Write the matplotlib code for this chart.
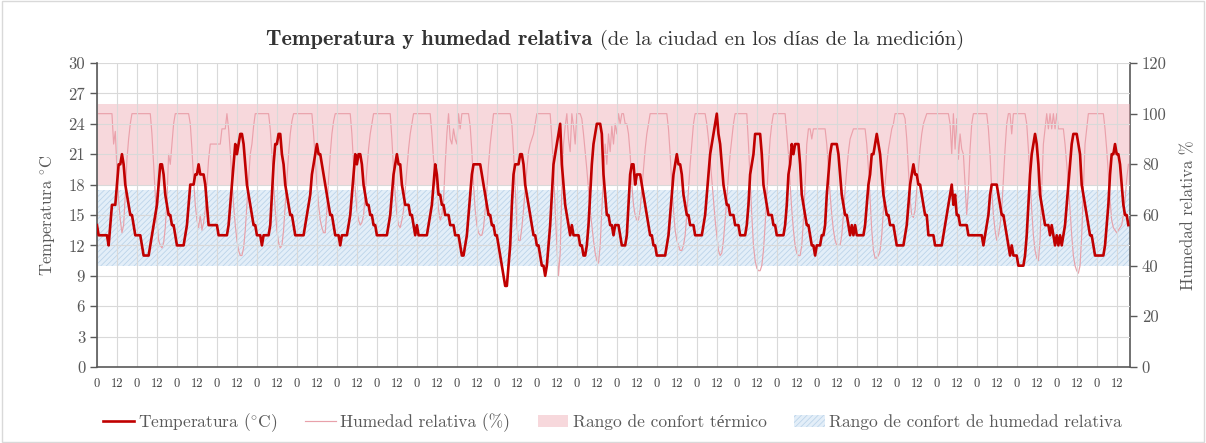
import numpy as np
import matplotlib.pyplot as plt
import matplotlib.patches as mpatches
from matplotlib.lines import Line2D

# temperatura horaria (°C), una fila por día
temperatura = [
    14, 13, 13, 13, 13, 13, 13, 12, 14, 16, 16, 16, 18, 20, 20, 21, 20, 18, 17, 16, 15, 15, 14, 13,
    13, 13, 13, 12, 11, 11, 11, 11, 12, 13, 14, 15, 16, 18, 20, 20, 19, 17, 16, 15, 15, 14, 14, 13,
    12, 12, 12, 12, 12, 13, 14, 16, 18, 18, 18, 19, 19, 20, 19, 19, 19, 18, 16, 14, 14, 14, 14, 14,
    14, 13, 13, 13, 13, 13, 13, 14, 16, 18, 20, 22, 21, 22, 23, 23, 22, 20, 18, 17, 16, 15, 14, 14,
    13, 13, 13, 12, 13, 13, 13, 13, 14, 17, 20, 22, 22, 23, 23, 21, 20, 18, 17, 16, 15, 15, 14, 13,
    13, 13, 13, 13, 13, 14, 15, 16, 17, 19, 20, 21, 22, 21, 21, 20, 19, 18, 17, 16, 15, 15, 14, 13,
    13, 13, 12, 13, 13, 13, 13, 14, 15, 17, 19, 21, 20, 21, 21, 20, 18, 17, 16, 16, 15, 15, 14, 14,
    13, 13, 13, 13, 13, 13, 13, 14, 15, 17, 19, 20, 21, 20, 20, 18, 17, 16, 16, 16, 15, 15, 14, 13,
    14, 13, 13, 13, 13, 13, 13, 14, 15, 16, 18, 20, 19, 17, 17, 16, 16, 15, 15, 15, 14, 14, 14, 13,
    13, 13, 12, 11, 11, 12, 13, 15, 17, 19, 20, 20, 20, 20, 20, 19, 18, 17, 16, 15, 15, 14, 14, 13,
    13, 12, 11, 10, 9, 8, 8, 10, 12, 16, 19, 20, 20, 20, 21, 21, 20, 18, 17, 16, 15, 14, 13, 13,
    12, 12, 11, 10, 10, 9, 10, 12, 14, 17, 20, 21, 22, 23, 24, 20, 18, 16, 15, 14, 13, 14, 13, 13,
    13, 13, 12, 12, 11, 11, 12, 14, 17, 20, 22, 23, 24, 24, 24, 23, 19, 17, 15, 15, 14, 14, 13, 14,
    14, 14, 13, 12, 12, 12, 13, 16, 19, 20, 20, 18, 19, 19, 19, 18, 17, 16, 15, 14, 13, 13, 12, 12,
    11, 11, 11, 11, 11, 11, 12, 13, 15, 17, 19, 20, 21, 20, 20, 19, 17, 16, 15, 15, 14, 14, 14, 13,
    13, 13, 13, 13, 14, 15, 17, 19, 21, 22, 23, 24, 25, 23, 22, 20, 18, 17, 16, 16, 15, 15, 15, 14,
    14, 14, 13, 13, 13, 13, 14, 16, 19, 20, 21, 23, 23, 23, 23, 21, 18, 17, 16, 15, 15, 15, 14, 14,
    13, 13, 13, 13, 13, 14, 16, 19, 20, 22, 21, 22, 22, 22, 20, 17, 16, 15, 14, 14, 13, 12, 12, 11,
    12, 12, 12, 13, 13, 14, 17, 19, 21, 22, 22, 22, 22, 21, 19, 17, 16, 15, 15, 14, 13, 14, 13, 14,
    13, 13, 13, 13, 13, 14, 16, 18, 19, 21, 21, 22, 23, 22, 21, 19, 17, 16, 15, 15, 14, 14, 14, 13,
    12, 12, 12, 12, 12, 13, 14, 16, 18, 19, 20, 19, 19, 18, 18, 17, 16, 15, 15, 13, 13, 13, 13, 12,
    12, 12, 12, 12, 13, 14, 15, 16, 17, 18, 16, 17, 15, 15, 14, 14, 14, 14, 14, 13, 13, 13, 13, 13,
    13, 13, 13, 13, 12, 13, 14, 15, 17, 18, 18, 18, 18, 17, 16, 15, 15, 14, 13, 12, 11, 12, 11, 11,
    11, 10, 10, 10, 10, 11, 13, 16, 19, 21, 22, 23, 22, 20, 17, 16, 15, 14, 14, 14, 13, 14, 13, 12,
    13, 12, 13, 12, 13, 14, 16, 18, 20, 22, 23, 23, 23, 22, 21, 18, 17, 16, 15, 14, 13, 13, 12, 11,
    11, 11, 11, 11, 11, 12, 14, 16, 19, 21, 21, 22, 21, 21, 20, 18, 16, 15, 15, 14,
]

# humedad relativa horaria (%), una fila por día
humedad = [
    100, 100, 100, 100, 100, 100, 100, 100, 100, 100, 88, 93, 78, 66, 58, 53, 56, 68, 82, 90, 96, 100, 100, 100,
    100, 100, 100, 100, 100, 100, 100, 100, 100, 92, 80, 68, 58, 50, 48, 47, 49, 55, 66, 84, 80, 88, 96, 100,
    100, 100, 100, 100, 100, 100, 100, 100, 96, 86, 74, 64, 58, 55, 60, 54, 57, 62, 72, 82, 88, 88, 88, 88,
    88, 88, 88, 94, 94, 94, 100, 94, 85, 74, 64, 56, 50, 46, 44, 44, 47, 54, 64, 74, 84, 88, 95, 100,
    100, 100, 100, 100, 100, 100, 100, 100, 94, 84, 72, 62, 54, 49, 47, 48, 54, 64, 74, 84, 92, 97, 100, 100,
    100, 100, 100, 100, 100, 100, 100, 100, 100, 100, 92, 82, 72, 64, 58, 55, 53, 53, 62, 74, 84, 92, 97, 100,
    100, 100, 100, 100, 100, 100, 100, 100, 100, 92, 80, 70, 62, 58, 56, 57, 60, 68, 78, 86, 92, 96, 100, 100,
    100, 100, 100, 100, 100, 100, 100, 100, 100, 90, 78, 68, 60, 56, 55, 58, 62, 70, 78, 86, 92, 96, 100, 100,
    100, 100, 100, 100, 100, 100, 100, 100, 100, 92, 82, 76, 70, 62, 58, 60, 66, 80, 92, 100, 90, 88, 94, 90,
    88, 100, 94, 100, 100, 100, 100, 100, 95, 85, 72, 62, 56, 53, 52, 52, 55, 62, 70, 80, 88, 94, 100, 100,
    100, 100, 100, 100, 100, 100, 100, 100, 100, 96, 85, 70, 56, 50, 50, 55, 62, 70, 78, 85, 88, 90, 92, 96,
    100, 100, 100, 100, 100, 100, 100, 100, 100, 90, 78, 62, 48, 36, 45, 70, 88, 95, 100, 90, 85, 100, 95, 88,
    100, 100, 100, 98, 92, 85, 78, 70, 62, 56, 50, 45, 42, 41, 48, 62, 75, 88, 80, 92, 85, 95, 88, 96,
    92, 100, 96, 100, 100, 96, 96, 92, 84, 72, 64, 60, 58, 58, 62, 70, 78, 86, 92, 96, 100, 100, 100, 100,
    100, 100, 100, 100, 100, 100, 100, 94, 84, 72, 62, 54, 50, 48, 46, 46, 48, 52, 60, 70, 80, 88, 96, 100,
    100, 100, 100, 100, 100, 100, 96, 90, 82, 74, 66, 58, 52, 46, 44, 45, 50, 58, 66, 76, 84, 90, 96, 100,
    100, 100, 100, 100, 100, 100, 100, 88, 74, 60, 48, 42, 39, 38, 38, 40, 46, 56, 68, 80, 90, 96, 100, 100,
    100, 100, 100, 100, 100, 100, 92, 84, 72, 62, 54, 48, 45, 44, 44, 48, 58, 72, 88, 94, 94, 90, 94, 94,
    94, 94, 94, 94, 94, 94, 88, 78, 68, 60, 54, 50, 48, 48, 48, 52, 60, 70, 78, 85, 90, 92, 94, 94,
    94, 94, 94, 94, 94, 94, 88, 78, 66, 54, 46, 43, 43, 44, 46, 52, 62, 72, 80, 86, 90, 94, 96, 100,
    100, 100, 100, 100, 100, 98, 90, 78, 66, 60, 59, 62, 70, 78, 86, 92, 96, 98, 100, 100, 100, 100, 100, 100,
    100, 100, 100, 100, 100, 100, 100, 100, 96, 84, 100, 86, 98, 82, 92, 86, 84, 72, 60, 70, 86, 96, 100, 100,
    100, 100, 100, 100, 100, 100, 100, 94, 84, 70, 60, 54, 50, 52, 56, 62, 74, 86, 96, 100, 100, 92, 100, 100,
    100, 100, 100, 100, 100, 100, 96, 86, 74, 62, 52, 46, 43, 42, 50, 70, 88, 94, 100, 94, 100, 94, 100, 94,
    100, 94, 94, 94, 94, 88, 80, 72, 62, 52, 44, 40, 38, 37, 40, 52, 70, 88, 94, 100, 100, 100, 100, 100,
    100, 100, 100, 100, 100, 94, 86, 76, 66, 58, 55, 54, 53, 54, 55, 56, 60, 66, 74, 80,
]

confort_termico = (18, 26)   # °C
confort_humedad = (40, 70)   # %

ticks_temp = list(range(0, 31, 3))
ticks_hum = list(range(0, 121, 20))

gris = '#595959'
rojo = '#c00000'
rosa_linea = '#e8a1aa'
rosa_banda = '#eda3ad'
azul_banda = '#e3eef8'
azul_rayado = '#bcd4ea'

plt.rcParams['font.family'] = ['cmr10', 'Liberation Serif']
plt.rcParams['mathtext.fontset'] = 'cm'
plt.rcParams['axes.formatter.use_mathtext'] = True
plt.rcParams['hatch.linewidth'] = 0.6

fig = plt.figure(figsize=(12.06, 4.43), dpi=100)
ax = fig.add_axes([0.0804, 0.1716, 0.8566, 0.6862])
ax2 = ax.twinx()
ax.set_zorder(2)
ax2.set_zorder(1)
ax.patch.set_visible(False)

x = np.arange(len(temperatura))

# bandas de confort
ax2.axhspan(*confort_humedad, facecolor=azul_banda, edgecolor=azul_rayado,
            hatch='//////', linewidth=0, zorder=0)
ax.axhspan(*confort_termico, facecolor=rosa_banda, alpha=0.42, linewidth=0, zorder=0.1)

ax2.plot(x, humedad, color=rosa_linea, lw=0.85, zorder=2)
ax.plot(x, temperatura, color=rojo, lw=1.9, zorder=3)

ax.set_xlim(0, len(x))
ax.set_ylim(0, 30)
ax2.set_ylim(0, 120)

xt = list(range(0, len(x), 12))
ax.set_xticks(xt, [str(h % 24) for h in xt])
ax.set_yticks(ticks_temp, [str(t) for t in ticks_temp])
ax2.set_yticks(ticks_hum, [str(t) for t in ticks_hum])

ax.set_axisbelow(True)
ax.grid(True, color='#d9d9d9', lw=0.8)

ax.spines['top'].set_visible(False)
ax.spines['right'].set_visible(False)
for s in ['top', 'left', 'bottom']:
    ax2.spines[s].set_visible(False)
for s in ['left', 'bottom']:
    ax.spines[s].set_color(gris)
    ax.spines[s].set_linewidth(1.2)
ax2.spines['right'].set_color(gris)
ax2.spines['right'].set_linewidth(1.2)

ax.tick_params(axis='y', colors=gris, labelsize=12, length=5, width=1)
ax.tick_params(axis='x', colors='#404040', labelsize=9, length=0, pad=8)
ax2.tick_params(axis='y', colors=gris, labelsize=12, length=5, width=1)

ax.set_ylabel(r'Temperatura $^{\circ}$C', fontsize=12, color=gris, labelpad=8)
ax2.set_ylabel('Humedad relativa %', fontsize=12, color=gris, labelpad=10)

# título en dos partes (negrita + normal)
t1 = fig.text(0, 0.898, 'Temperatura y humedad relativa', fontsize=16,
              family=['cmb10', 'Liberation Serif'], color='#333333')
t2 = fig.text(0, 0.898, ' (de la ciudad en los días de la medición)', fontsize=14.8,
              color='#333333')
fig.canvas.draw()
r = fig.canvas.get_renderer()
w1 = t1.get_window_extent(r).width
w2 = t2.get_window_extent(r).width
W = fig.bbox.width
x0 = 615 - (w1 + w2) / 2
t1.set_x(x0 / W)
t2.set_x((x0 + w1) / W)

handles = [
    Line2D([], [], color=rojo, lw=1.9),
    Line2D([], [], color=rosa_linea, lw=0.85),
    mpatches.Patch(facecolor=rosa_banda, alpha=0.42, linewidth=0),
    mpatches.Patch(facecolor=azul_banda, edgecolor=azul_rayado, hatch='//////', linewidth=0),
]
labels = [r'Temperatura ($^{\circ}$C)', 'Humedad relativa (%)', 'Rango de confort térmico',
          'Rango de confort de humedad relativa']
leg = fig.legend(handles, labels, loc='center', bbox_to_anchor=(0.508, 0.047), ncol=4,
                 frameon=False, fontsize=12.5, handlelength=1.75, handletextpad=0.25,
                 columnspacing=1.6)
for t in leg.get_texts():
    t.set_color(gris)

fig.add_artist(mpatches.Rectangle((0.002, 0.003), 0.996, 0.994, transform=fig.transFigure,
                                  fill=False, edgecolor='#d9d9d9', lw=1))

fig.savefig('out.png', dpi=100)
